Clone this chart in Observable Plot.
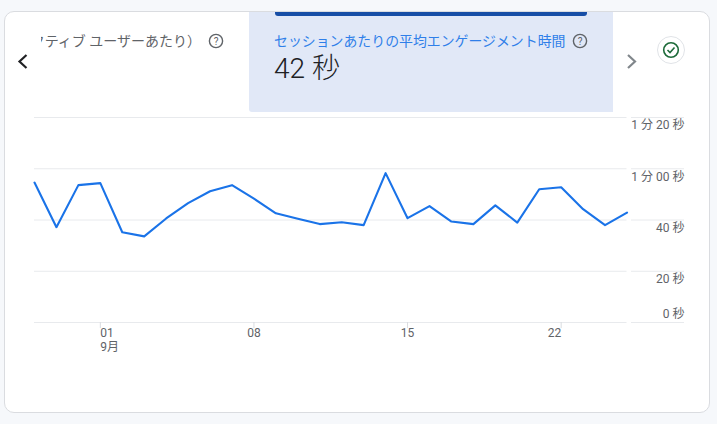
<!DOCTYPE html>
<html><head><meta charset="utf-8">
<script src="https://cdn.jsdelivr.net/npm/d3@7"></script>
<script src="https://cdn.jsdelivr.net/npm/@observablehq/plot@0.6"></script>
<style>
html,body{margin:0;padding:0;background:#f6f8fb;width:717px;height:424px;overflow:hidden;font-family:Roboto,"Noto Sans CJK JP",sans-serif}
.card{position:absolute;left:4px;top:11px;width:704px;height:400px;background:#fff;border:1px solid #dadce0;border-radius:10px}
.panel{position:absolute;left:249px;top:12px;width:364px;height:100px;background:#e1e8f7;border-radius:0 0 0 3px}
.bar{position:absolute;left:275px;top:12px;width:312px;height:4px;background:#174ea6;border-radius:0 0 3px 3px}
.t{position:absolute;white-space:nowrap;font-family:Roboto,"Noto Sans CJK JP",sans-serif}
.clip{position:absolute;left:41px;top:30px;width:162px;height:22px;overflow:hidden}
#chart{position:absolute;left:0;top:0}
svg.ic{position:absolute}
</style></head><body>
<div class="card"></div>
<div class="panel"></div>
<div class="bar"></div>
<div class="clip"><span class="t" style="right:2px;top:0;font-size:14px;line-height:22px;color:#5f6368">アクティブ ユーザーあたり）</span></div>
<svg class="ic" style="left:208px;top:33px" width="16" height="16" viewBox="0 0 16 16"><circle cx="8" cy="8" r="6.6" fill="none" stroke="#5f6368" stroke-width="1.4"/><text x="8" y="11.6" text-anchor="middle" font-size="10" font-family="Roboto" fill="#5f6368">?</text></svg>
<span class="t" style="left:274px;top:30px;font-size:13.9px;line-height:22px;color:#2f7fe9">セッションあたりの平均エンゲージメント時間</span>
<svg class="ic" style="left:572px;top:33px" width="16" height="16" viewBox="0 0 16 16"><circle cx="8" cy="8" r="6.6" fill="none" stroke="#5f6368" stroke-width="1.4"/><text x="8" y="11.6" text-anchor="middle" font-size="10" font-family="Roboto" fill="#5f6368">?</text></svg>
<span class="t" style="left:274px;top:51px;font-size:28px;line-height:36px;color:#202124;font-weight:300">42 秒</span>
<svg class="ic" style="left:14px;top:51px" width="18" height="20" viewBox="0 0 18 20"><path d="M12.5 4 L5.5 10.5 L12.5 17" fill="none" stroke="#202124" stroke-width="2.2"/></svg>
<svg class="ic" style="left:623px;top:51px" width="18" height="20" viewBox="0 0 18 20"><path d="M5 4 L12 10.5 L5 17" fill="none" stroke="#80868b" stroke-width="2.2"/></svg>
<svg class="ic" style="left:657px;top:36px" width="28" height="28" viewBox="0 0 28 28"><circle cx="14" cy="14" r="13.5" fill="#fff" stroke="#e0e3e7"/><circle cx="14" cy="14" r="7.3" fill="none" stroke="#1e6b3a" stroke-width="1.6"/><path d="M10.5 14 L13 16.5 L17.5 11.5" fill="none" stroke="#1e6b3a" stroke-width="1.6"/></svg>
<div id="chart"></div>
<script>
const seconds = [54.8,37.4,53.8,54.6,35.4,33.8,40.8,46.8,51.4,53.8,48.5,42.8,40.7,38.6,39.3,38.2,58.5,40.9,45.6,39.6,38.6,45.9,39.2,52.2,53,44.4,38.2,43.1];
const yTicks = [0,20,40,60,80];
const yLabels = ["0 秒","20 秒","40 秒","1 分 00 秒","1 分 20 秒"];
const xTicks = ["2024-09-01","2024-09-08","2024-09-15","2024-09-22"];
const xLabels = ["01","08","15","22"];
const monthLabel = "9月";

const day = i => new Date(Date.UTC(2024,7,29+i));
const rows = seconds.map((v,i)=>({date:day(i),v}));
const xT = xTicks.map((d,i)=>({date:new Date(d+"T00:00:00Z"),label:xLabels[i]}));
const yT = yTicks.map((v,i)=>({v,label:yLabels[i]}));
const xDomain = [day(0),day(27)];
const dayPx = (626.5-34)/27;
const x0 = new Date(+day(27)+ (631-626.5)/dayPx*864e5);
const xRight = new Date(+day(27)+ (684-626.5)/dayPx*864e5);
const grid = "#e8eaed", ink = "#5f6368";
const font = 'Roboto,"Noto Sans CJK JP",sans-serif';
const tickLabel = (anchor, keep) => Plot.text(xT.filter(keep),{x:"date",y:0,text:"label",fill:ink,fontSize:12,dy:11,textAnchor:anchor});

const plot = Plot.plot({
  width:717,height:424,
  marginLeft:0,marginRight:0,marginTop:0,marginBottom:0,
  style:{background:"transparent",fontFamily:font},
  x:{type:"utc",domain:xDomain,range:[34,626.5],axis:null},
  y:{domain:[0,80],range:[322,117],axis:null},
  marks:[
    Plot.ruleY(yTicks,{x1:xDomain[0],x2:xDomain[1],stroke:grid,strokeWidth:1}),
    Plot.ruleY(yTicks,{x1:x0,x2:xRight,stroke:grid,strokeWidth:1}),
    Plot.ruleX(xT,{x:"date",y1:0,y2:-2.4,stroke:"#dadce0"}),
    Plot.lineY(rows,{x:"date",y:"v",stroke:"#1a73e8",strokeWidth:2.1,curve:"linear",dy:0.5}),
    Plot.text(yT.filter(d=>d.v>0),{x:xRight,y:"v",text:"label",textAnchor:"end",fill:ink,fontSize:12,dy:8}),
    Plot.text(yT.filter(d=>d.v===0),{x:xRight,y:"v",text:"label",textAnchor:"end",fill:ink,fontSize:12,dy:-8}),
    tickLabel("start",(d,i)=>i===0),
    tickLabel("middle",(d,i)=>i===1||i===2),
    tickLabel("end",(d,i)=>i===3),
    Plot.text([xT[0]],{x:"date",y:0,text:()=>monthLabel,fill:ink,fontSize:12,dy:24.5,textAnchor:"start"})
  ]
});
document.getElementById("chart").append(plot);
</script>
</body></html>
